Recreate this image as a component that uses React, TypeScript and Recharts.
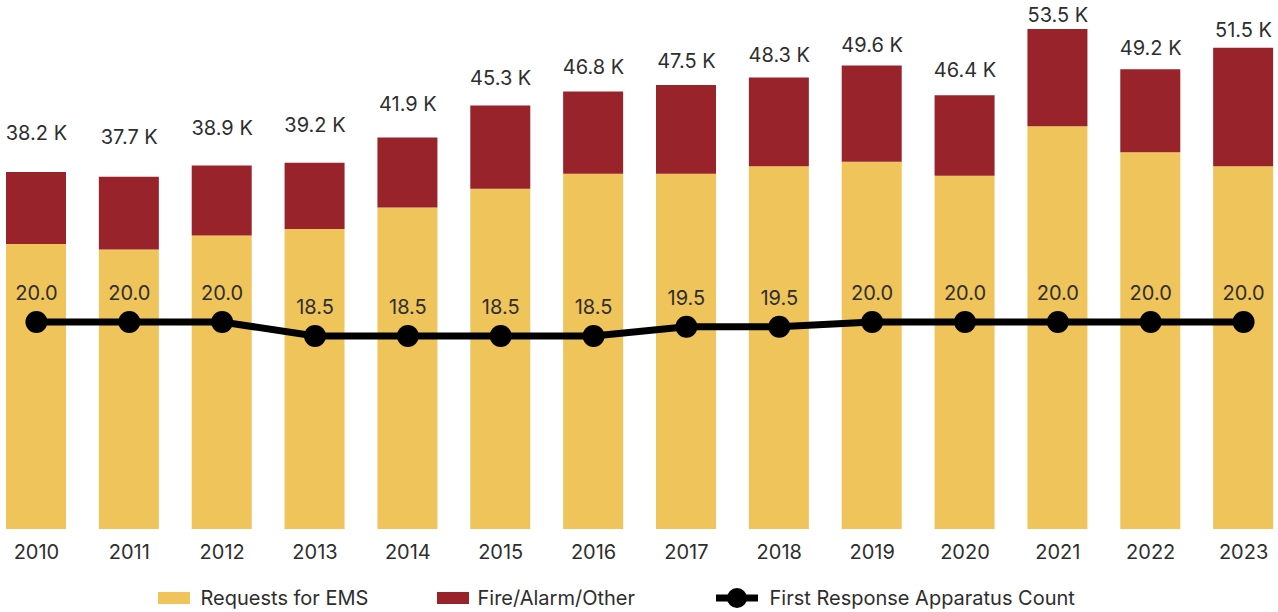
import React from "react";
import { Bar, ComposedChart, LabelList, Legend, Line, XAxis, YAxis } from "recharts";

const years = ["2010", "2011", "2012", "2013", "2014", "2015", "2016", "2017", "2018", "2019", "2020", "2021", "2022", "2023"];
// totals as printed above the bars (thousands)
const totals = [38.2, 37.7, 38.9, 39.2, 41.9, 45.3, 46.8, 47.5, 48.3, 49.6, 46.4, 53.5, 49.2, 51.5];
// EMS share
const ems = [30.5, 29.9, 31.4, 32.1, 34.4, 36.4, 38.0, 38.0, 38.8, 39.3, 37.8, 43.1, 40.3, 38.8];
const apparatus = [20.0, 20.0, 20.0, 18.5, 18.5, 18.5, 18.5, 19.5, 19.5, 20.0, 20.0, 20.0, 20.0, 20.0];

const data = years.map((year, i) => ({
  year,
  ems: ems[i],
  fire: +(totals[i] - ems[i]).toFixed(1),
  total: totals[i],
  apparatus: apparatus[i],
}));

const YELLOW = "#EFC45B";
const RED = "#99232A";
const TEXT = "#2e2e2e";
const FONT = "Inter, 'Noto Sans', sans-serif";
const FS = 20;

function TotalLabel(props: any) {
  const { x, y, value } = props;
  return (
    <text x={x} y={y} textAnchor="middle" dominantBaseline="central" fontSize={FS} fill={TEXT} fontFamily={FONT}>
      {`${Number(value).toFixed(1)} K`}
    </text>
  );
}

function LineLabel(props: any) {
  const { x, y, value } = props;
  return (
    <text x={x} y={y - 29} textAnchor="middle" dominantBaseline="central" fontSize={FS} fill={TEXT} fontFamily={FONT}>
      {Number(value).toFixed(1)}
    </text>
  );
}

function LegendContent() {
  const label = { position: "absolute" as const, fontSize: FS, color: TEXT, fontFamily: FONT, lineHeight: "22px", whiteSpace: "nowrap" as const };
  return (
    <div style={{ position: "relative", height: 43 }}>
      <div style={{ position: "absolute", left: 168, top: 23, width: 32, height: 12, background: YELLOW }} />
      <div style={{ ...label, left: 211, top: 18 }}>Requests for EMS</div>
      <div style={{ position: "absolute", left: 447, top: 23, width: 32, height: 12, background: RED }} />
      <div style={{ ...label, left: 488, top: 18 }}>Fire/Alarm/Other</div>
      <svg style={{ position: "absolute", left: 724, top: 17 }} width={46} height={24}>
        <line x1={2} y1={12} x2={44} y2={12} stroke="#000" strokeWidth={7} />
        <circle cx={23} cy={12} r={10} fill="#000" />
      </svg>
      <div style={{ ...label, left: 780, top: 18 }}>First Response Apparatus Count</div>
    </div>
  );
}

export default function App() {
  return (
    <div style={{ position: "absolute", left: -10.5, top: 0, width: 1300, height: 612, background: "#fff", overflow: "hidden" }}>
      <ComposedChart width={1300} height={612} data={data} margin={{ top: 0, right: 0, bottom: 0, left: 0 }}>
        <XAxis
          dataKey="year"
          height={40}
          axisLine={false}
          tickLine={false}
          tickMargin={10}
          tick={{ fontSize: FS, fill: TEXT, fontFamily: FONT }}
        />
        <YAxis yAxisId="left" hide domain={[0, 56.6]} />
        <YAxis yAxisId="right" hide domain={[-2.18, 54.5]} />
        {/* the total labels sit on their own compressed scale in the original */}
        <YAxis yAxisId="labels" hide domain={[-13.16, 55.45]} />
        <Legend verticalAlign="bottom" content={<LegendContent />} />
        <Bar yAxisId="left" dataKey="ems" stackId="a" fill={YELLOW} barSize={60} isAnimationActive={false} />
        <Bar yAxisId="left" dataKey="fire" stackId="a" fill={RED} barSize={60} isAnimationActive={false} />
        <Line
          yAxisId="labels"
          dataKey="total"
          stroke="none"
          dot={false}
          activeDot={false}
          legendType="none"
          isAnimationActive={false}
        >
          <LabelList dataKey="total" content={<TotalLabel />} />
        </Line>
        <Line
          yAxisId="right"
          dataKey="apparatus"
          stroke="#000"
          strokeWidth={7}
          type="linear"
          dot={{ r: 11, fill: "#000", stroke: "none" }}
          activeDot={false}
          isAnimationActive={false}
        >
          <LabelList dataKey="apparatus" content={<LineLabel />} />
        </Line>
      </ComposedChart>
    </div>
  );
}
